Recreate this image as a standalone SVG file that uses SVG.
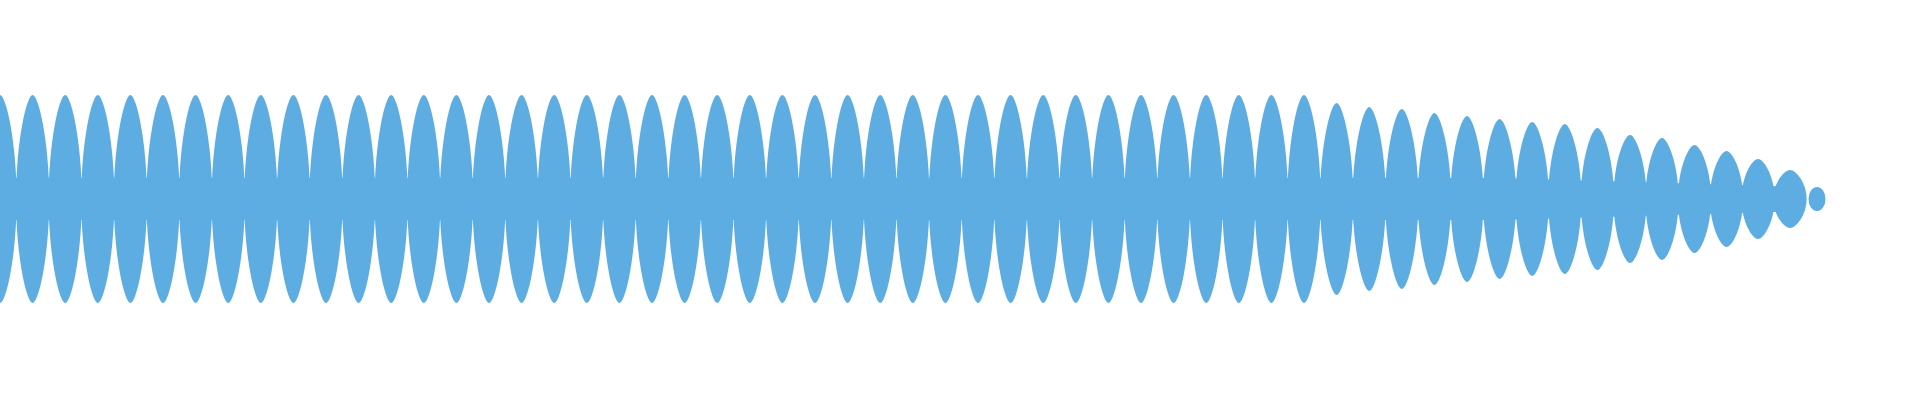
<svg xmlns="http://www.w3.org/2000/svg" xmlns:xlink="http://www.w3.org/1999/xlink" width="1920" height="400" viewBox="0 0 1920 400">
<style>.w{fill:#5DADE2}</style>
<defs><path id="l" d="M-16.6,0 C-16.6,-0.55 -6,-1 0,-1 C6,-1 16.6,-0.55 16.6,0 C16.6,0.55 6,1 0,1 C-6,1 -16.6,0.55 -16.6,0Z"/></defs>
<rect width="1920" height="400" fill="#fff"/>
<g id="wave" class="w">
<polygon points="0,178 1500,178 1805,187 1805,211 1500,220 0,220"/>
<g id="full">
<use href="#l" transform="translate(0,199) scale(1,104)"/>
<use href="#l" transform="translate(32.6,199) scale(1,104)"/>
<use href="#l" transform="translate(65.2,199) scale(1,104)"/>
<use href="#l" transform="translate(97.8,199) scale(1,104)"/>
<use href="#l" transform="translate(130.4,199) scale(1,104)"/>
<use href="#l" transform="translate(163,199) scale(1,104)"/>
<use href="#l" transform="translate(195.6,199) scale(1,104)"/>
<use href="#l" transform="translate(228.2,199) scale(1,104)"/>
<use href="#l" transform="translate(260.8,199) scale(1,104)"/>
<use href="#l" transform="translate(293.4,199) scale(1,104)"/>
<use href="#l" transform="translate(326,199) scale(1,104)"/>
<use href="#l" transform="translate(358.6,199) scale(1,104)"/>
<use href="#l" transform="translate(391.2,199) scale(1,104)"/>
<use href="#l" transform="translate(423.8,199) scale(1,104)"/>
<use href="#l" transform="translate(456.4,199) scale(1,104)"/>
<use href="#l" transform="translate(489,199) scale(1,104)"/>
<use href="#l" transform="translate(521.6,199) scale(1,104)"/>
<use href="#l" transform="translate(554.2,199) scale(1,104)"/>
<use href="#l" transform="translate(586.8,199) scale(1,104)"/>
<use href="#l" transform="translate(619.4,199) scale(1,104)"/>
<use href="#l" transform="translate(652,199) scale(1,104)"/>
<use href="#l" transform="translate(684.6,199) scale(1,104)"/>
<use href="#l" transform="translate(717.2,199) scale(1,104)"/>
<use href="#l" transform="translate(749.8,199) scale(1,104)"/>
<use href="#l" transform="translate(782.4,199) scale(1,104)"/>
<use href="#l" transform="translate(815,199) scale(1,104)"/>
<use href="#l" transform="translate(847.6,199) scale(1,104)"/>
<use href="#l" transform="translate(880.2,199) scale(1,104)"/>
<use href="#l" transform="translate(912.8,199) scale(1,104)"/>
<use href="#l" transform="translate(945.4,199) scale(1,104)"/>
<use href="#l" transform="translate(978,199) scale(1,104)"/>
<use href="#l" transform="translate(1010.6,199) scale(1,104)"/>
<use href="#l" transform="translate(1043.2,199) scale(1,104)"/>
<use href="#l" transform="translate(1075.8,199) scale(1,104)"/>
<use href="#l" transform="translate(1108.4,199) scale(1,104)"/>
<use href="#l" transform="translate(1141,199) scale(1,104)"/>
<use href="#l" transform="translate(1173.6,199) scale(1,104)"/>
<use href="#l" transform="translate(1206.2,199) scale(1,104)"/>
<use href="#l" transform="translate(1238.8,199) scale(1,104)"/>
<use href="#l" transform="translate(1271.4,199) scale(1,104)"/>
<use href="#l" transform="translate(1304,199) scale(1,104)"/>
</g>
<g id="taper">
<use href="#l" transform="translate(1336.6,199) scale(1,96)"/>
<use href="#l" transform="translate(1369.2,199) scale(1,92)"/>
<use href="#l" transform="translate(1401.8,199) scale(1,90)"/>
<use href="#l" transform="translate(1434.4,199) scale(1,86)"/>
<use href="#l" transform="translate(1467,199) scale(1,83)"/>
<use href="#l" transform="translate(1499.6,199) scale(1,80)"/>
<use href="#l" transform="translate(1532.2,199) scale(1,77)"/>
<use href="#l" transform="translate(1564.8,199) scale(1,75)"/>
<use href="#l" transform="translate(1597.4,199) scale(1,71)"/>
<use href="#l" transform="translate(1630,199) scale(1,64)"/>
<use href="#l" transform="translate(1662,199) scale(1,61)"/>
<use href="#l" transform="translate(1694.5,199) scale(1,54)"/>
<use href="#l" transform="translate(1726.5,199) scale(1,48)"/>
<use href="#l" transform="translate(1758,199) scale(1,40)"/>
<use href="#l" transform="translate(1790,199) scale(1,29)"/>
<ellipse cx="1817" cy="199" rx="8.5" ry="12"/>
</g>
</g>
</svg>
